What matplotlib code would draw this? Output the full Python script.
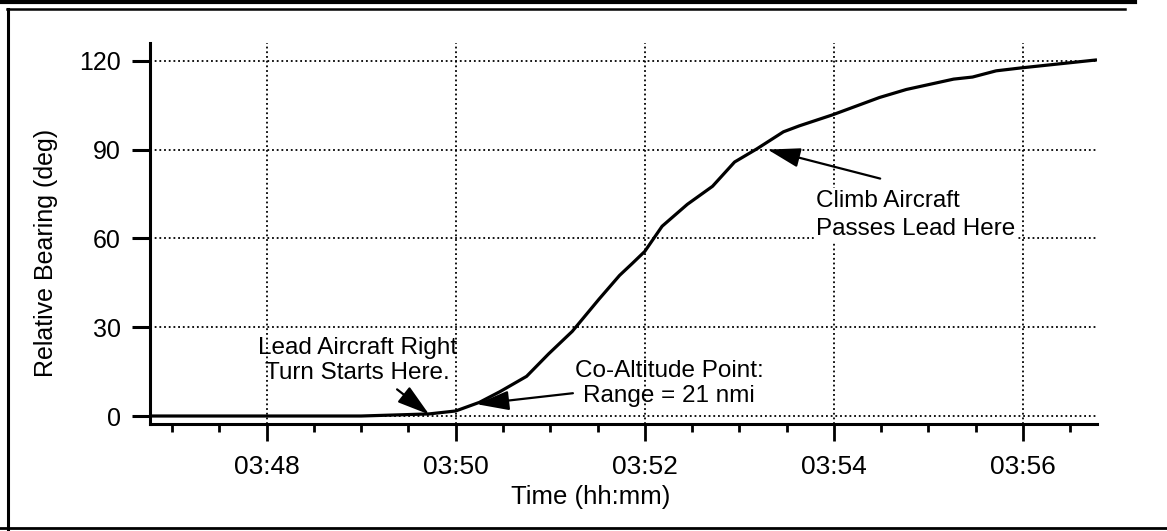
#!/usr/bin/env python3
"""
Relative bearing vs time, climb/lead aircraft encounter
"""

import matplotlib
matplotlib.use('Agg')
import matplotlib.pyplot as plt
from matplotlib.lines import Line2D
from matplotlib.ticker import MultipleLocator, FuncFormatter

plt.rcParams['font.family'] = ['Liberation Sans', 'DejaVu Sans']

# Data (hh:mm:ss, deg)
times = ['03:46:46', '03:49:00', '03:49:43', '03:50:00', '03:50:15', '03:50:28',
         '03:50:45', '03:50:59', '03:51:14', '03:51:31', '03:51:44', '03:51:52',
         '03:52:00', '03:52:11', '03:52:27', '03:52:43', '03:52:57', '03:53:11',
         '03:53:28', '03:53:38', '03:53:59', '03:54:29', '03:54:46', '03:55:16',
         '03:55:28', '03:55:43', '03:55:59', '03:56:47']
bearing = [0, 0, 0.7, 1.7, 4.6, 8.2,
           13.4, 21.0, 28.6, 39.5, 47.5, 51.5,
           55.6, 64.1, 71.5, 77.6, 85.8, 90.2,
           96.0, 98.0, 101.7, 107.6, 110.3, 113.8,
           114.5, 116.6, 117.6, 120.3]
y_ticks = [0, 30, 60, 90, 120]
x_limits = ['03:46:46', '03:56:47']


def to_minutes(s):
    """hh:mm:ss -> minutes after 03:00"""
    h, m, sec = [int(v) for v in s.split(':')]
    return (h - 3) * 60 + m + sec / 60.0


t = [to_minutes(s) for s in times]

fig = plt.figure(figsize=(11.67, 5.31), dpi=100)
ax = fig.add_axes([150 / 1167, 1 - 424 / 531, 947 / 1167, 381 / 531])

ax.plot(t, bearing, color='black', lw=2.3, solid_capstyle='butt', zorder=3)

ax.set_xlim(to_minutes(x_limits[0]), to_minutes(x_limits[1]))
ax.set_ylim(-2.7, 126)

# axes styling
for side in ['top', 'right']:
    ax.spines[side].set_visible(False)
for side in ['left', 'bottom']:
    ax.spines[side].set_linewidth(2.2)

ax.set_yticks(y_ticks)
ax.xaxis.set_major_locator(MultipleLocator(2))
ax.xaxis.set_minor_locator(MultipleLocator(0.5))
ax.xaxis.set_major_formatter(FuncFormatter(lambda v, p: '03:%02d' % round(v)))

ax.tick_params(axis='y', which='major', direction='out', length=13, width=2.2,
               pad=8, labelsize=18)
ax.tick_params(axis='x', which='major', direction='out', length=12, width=2.0,
               pad=10, labelsize=19)
ax.tick_params(axis='x', which='minor', direction='out', length=6, width=2.0)

ax.grid(True, which='major', color='black', linestyle=(0, (1, 1.6)), lw=1.3)
ax.set_axisbelow(True)

ax.set_ylabel('Relative Bearing (deg)', fontsize=18)
ax.yaxis.set_label_coords(-0.097, 0.449)
ax.set_xlabel('Time (hh:mm)', fontsize=18.5)
ax.xaxis.set_label_coords(0.465, -0.16)

# annotations
arrow = dict(arrowstyle='-|>,head_length=1.0,head_width=0.3', color='black',
             lw=1.6, mutation_scale=20, shrinkA=0, shrinkB=0)

ax.text(48.96, 18.7, 'Lead Aircraft Right\nTurn Starts Here.', fontsize=17.5,
        ha='center', va='center', linespacing=1.2)
ax.annotate('', xy=(49.72, 0.5), xytext=(49.38, 9.0), arrowprops=arrow)

ax.text(52.26, 11.0, 'Co-Altitude Point:\nRange = 21 nmi', fontsize=17.5,
        ha='center', va='center', linespacing=1.2)
ax.annotate('', xy=(50.22, 4.0), xytext=(51.24, 7.7), arrowprops=arrow)

ax.text(53.81, 68.0, 'Climb Aircraft\nPasses Lead Here', fontsize=17.5,
        ha='left', va='center', linespacing=1.35, zorder=4,
        bbox=dict(facecolor='white', edgecolor='none', pad=1.5))
ax.annotate('', xy=(53.30, 90.0), xytext=(54.49, 80.2), arrowprops=arrow)

# frame lines around the panel
W, H = 1167.0, 531.0
def frame_line(x0, y0, x1, y1, lw):
    fig.add_artist(Line2D([x0 / W, x1 / W], [1 - y0 / H, 1 - y1 / H],
                          transform=fig.transFigure, color='black', lw=lw))

frame_line(0, 2, 1135, 2, 3.0)
frame_line(7, 9, 1125, 9, 1.8)
frame_line(8, 9, 8, 531, 2.2)
frame_line(0, 528, 1167, 528, 2.0)

fig.savefig('out.png', dpi=100)
